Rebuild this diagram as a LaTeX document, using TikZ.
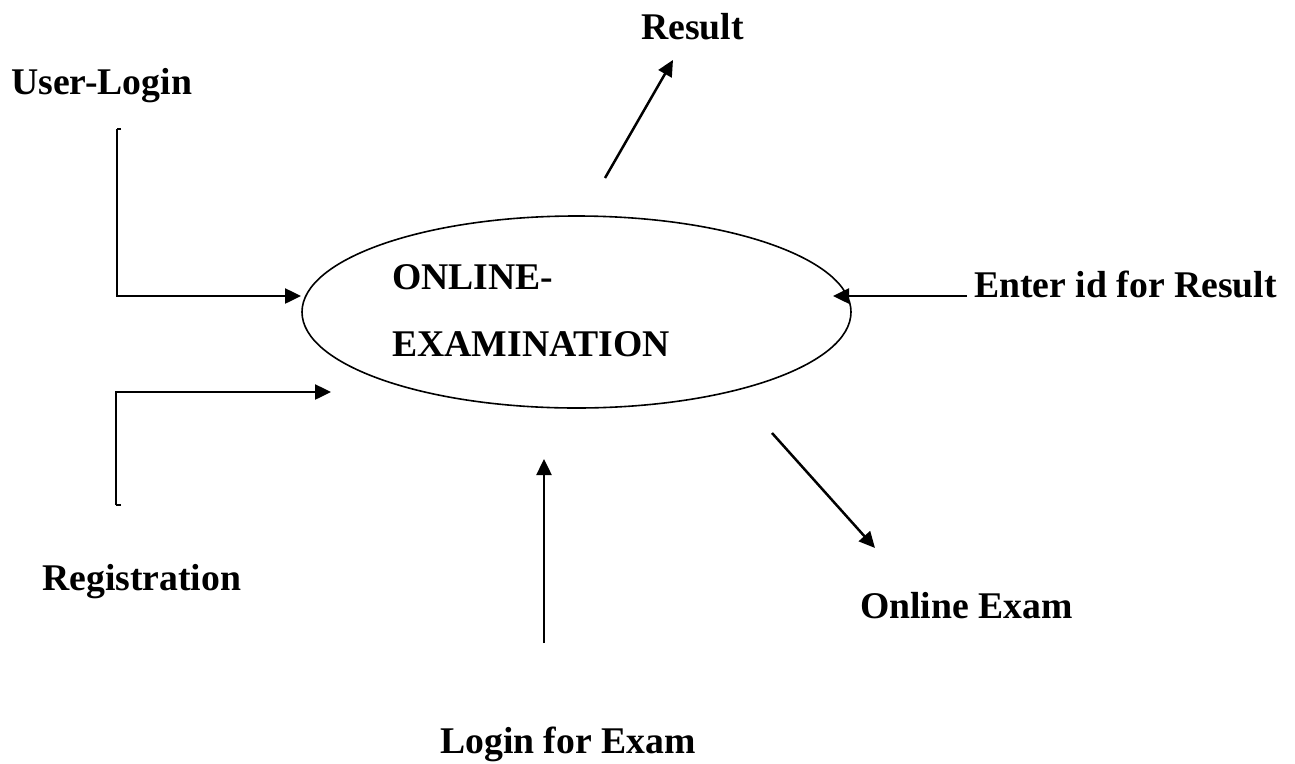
\documentclass[tikz,border=0pt]{standalone}
\usepackage{fontspec}
\setmainfont{Liberation Serif}
\usetikzlibrary{arrows.meta,shapes.geometric}
\begin{document}
\begin{tikzpicture}[x=1pt,y=-1pt,
  lbl/.style={font=\fontsize{37.7}{44}\selectfont\bfseries, inner sep=0pt, anchor=base west},
  flow/.style={line width=2.5pt, -{Triangle[length=16pt,width=15pt]}},
  bracket/.style={line width=2.5pt}]
  \useasboundingbox (0,0) rectangle (1295,763);

  % central process
  \node[draw, ellipse, line width=1.6pt, minimum width=549pt, minimum height=192pt, inner sep=0pt]
    (proc) at (576.5,312) {};
  \node[lbl] (t1) at (392,289) {ONLINE-};
  \node[lbl] (t2) at (392,356) {EXAMINATION};

  % labels
  \node[lbl] (ulogin) at (11,94) {User-Login};
  \node[lbl] (result) at (641,39) {Result};
  \node[lbl] (enterid) at (974,297) {Enter id for Result};
  \node[lbl] (reg) at (42,590) {Registration};
  \node[lbl] (oexam) at (860,618) {Online Exam};
  \node[lbl] (lexam) at (440,753) {Login for Exam};

  % connector end points
  \coordinate (u0) at (121,129);
  \coordinate (u1) at (117,129);
  \coordinate (u2) at (117,296);
  \coordinate (u3) at (301,296);
  \coordinate (r0) at (121,505);
  \coordinate (r1) at (116,505);
  \coordinate (r2) at (116,392);
  \coordinate (r3) at (331,392);
  \coordinate (e0) at (967,296);
  \coordinate (e1) at (833,296);
  \coordinate (s0) at (605,178);
  \coordinate (s1) at (673,60);
  \coordinate (o0) at (772,433);
  \coordinate (o1) at (875,548);
  \coordinate (l0) at (544,643);
  \coordinate (l1) at (544,459);

  % connectors
  \draw[bracket] (u0) -- (u1);
  \draw[flow] (u1) -- (u2) -- (u3);
  \draw[bracket] (r0) -- (r1);
  \draw[flow] (r1) -- (r2) -- (r3);
  \draw[flow] (e0) -- (e1);
  \draw[flow] (s0) -- (s1);
  \draw[flow] (o0) -- (o1);
  \draw[flow] (l0) -- (l1);
\end{tikzpicture}
\end{document}
